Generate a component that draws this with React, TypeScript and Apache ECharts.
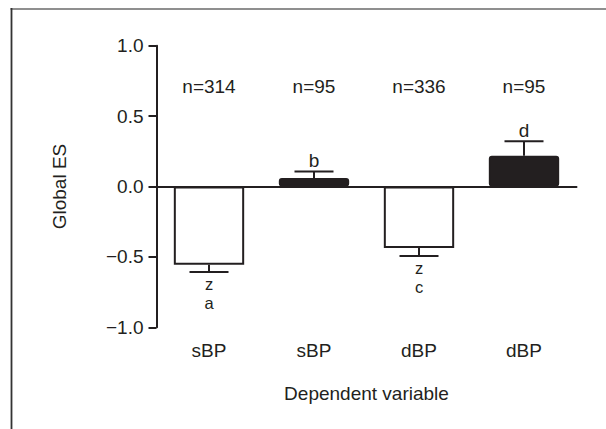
import React, { useEffect, useRef } from "react";
import * as echarts from "echarts";

const categories = ["sBP", "sBP", "dBP", "dBP"];
const means = [-0.555, 0.06, -0.437, 0.218];
const errorEnds = [-0.607, 0.106, -0.494, 0.322];
const letters = [["z", "a"], ["b"], ["z", "c"], ["d"]];
const counts = [314, 95, 336, 95];
const filled = [false, true, false, true];
const yTicks = { min: -1, max: 1, interval: 0.5 };
const countLabelLevel = 0.71;

const INK = "#231f20";
const FONT = "Liberation Sans, Arial, Helvetica, sans-serif";
const FS = 19;
const LETTER_FS = 16.5;
const LETTER_STEP = 19;

export default function App() {
  const ref = useRef<HTMLDivElement>(null);
  useEffect(() => {
    if (!ref.current) return;
    const chart = echarts.init(ref.current, undefined, { renderer: "svg" });
    const option: any = {
      animation: false,
      backgroundColor: "#ffffff",
      textStyle: { fontFamily: FONT, color: INK },
      grid: { left: 156.5, right: 29.5, top: 45.7, bottom: 101.7 },
      graphic: [
        { type: "line", shape: { x1: 10.5, y1: 9, x2: 606, y2: 9 }, style: { stroke: "#8f8f8f", lineWidth: 2 } },
        { type: "line", shape: { x1: 11.5, y1: 8, x2: 11.5, y2: 429 }, style: { stroke: "#333333", lineWidth: 1.8 } },
      ],
      xAxis: {
        type: "category",
        data: categories,
        name: "Dependent variable",
        nameLocation: "middle",
        nameGap: 57,
        nameTextStyle: { fontSize: FS, color: INK, fontFamily: FONT, verticalAlign: "top" },
        axisLine: { lineStyle: { color: INK, width: 2 } },
        axisTick: { alignWithLabel: true, length: 8, lineStyle: { color: INK, width: 2 } },
        axisLabel: { fontSize: FS, color: INK, fontFamily: FONT, margin: 14 },
        splitLine: { show: false },
      },
      yAxis: {
        type: "value",
        min: yTicks.min,
        max: yTicks.max,
        interval: yTicks.interval,
        name: "Global ES",
        nameLocation: "middle",
        nameGap: 88,
        nameRotate: 90,
        nameTextStyle: { fontSize: FS, color: INK, fontFamily: FONT },
        axisLine: { show: true, lineStyle: { color: INK, width: 2 } },
        axisTick: { show: true, length: 8, lineStyle: { color: INK, width: 2 } },
        axisLabel: {
          fontSize: FS,
          color: INK,
          fontFamily: FONT,
          margin: 13,
          formatter: (v: number) => (v < 0 ? "\u2212" + Math.abs(v).toFixed(1) : v.toFixed(1)),
        },
        splitLine: { show: false },
      },
      series: [
        {
          type: "bar",
          barCategoryGap: "33%",
          data: means.map((m, i) => ({
            value: m,
            itemStyle: {
              color: filled[i] ? INK : "#ffffff",
              borderColor: INK,
              borderWidth: 2,
              borderRadius: filled[i] ? 2 : 0,
            },
          })),
          markLine: {
            silent: true,
            symbol: "none",
            label: { show: false },
            lineStyle: { color: INK, width: 2, type: "solid" },
            data: [{ yAxis: 0 }],
          },
          z: 2,
        },
        {
          type: "custom",
          z: 3,
          data: means.map((m, i) => [i, m, errorEnds[i]]),
          renderItem: (params: any, api: any) => {
            const i = api.value(0);
            const p0 = api.coord([i, api.value(1)]);
            const p1 = api.coord([i, api.value(2)]);
            const down = api.value(2) < api.value(1);
            const lines = letters[params.dataIndex];
            const children: any[] = [
              { type: "line", shape: { x1: p0[0], y1: p0[1], x2: p1[0], y2: p1[1] }, style: { stroke: INK, lineWidth: 2 } },
              { type: "line", shape: { x1: p1[0] - 19.5, y1: p1[1], x2: p1[0] + 19.5, y2: p1[1] }, style: { stroke: INK, lineWidth: 2 } },
            ];
            lines.forEach((t, k) => {
              children.push({
                type: "text",
                x: p1[0],
                y: down ? p1[1] + 12 + k * LETTER_STEP : p1[1] - 11,
                style: {
                  text: t,
                  fill: INK,
                  fontSize: down ? LETTER_FS : FS,
                  fontFamily: FONT,
                  align: "center",
                  verticalAlign: "middle",
                },
              });
            });
            return { type: "group", children };
          },
        },
        {
          type: "custom",
          z: 3,
          data: counts.map((c, i) => [i, countLabelLevel, c]),
          renderItem: (params: any, api: any) => {
            const p = api.coord([api.value(0), api.value(1)]);
            return {
              type: "text",
              x: p[0],
              y: p[1],
              style: {
                text: "n=" + counts[params.dataIndex],
                fill: INK,
                fontSize: FS,
                fontFamily: FONT,
                align: "center",
                verticalAlign: "middle",
              },
            };
          },
        },
      ],
    };
    chart.setOption(option);
    return () => chart.dispose();
  }, []);
  return (
    <div
      ref={ref}
      style={{ position: "fixed", left: 0, top: 0, width: 606, height: 429, background: "#fff" }}
    />
  );
}
